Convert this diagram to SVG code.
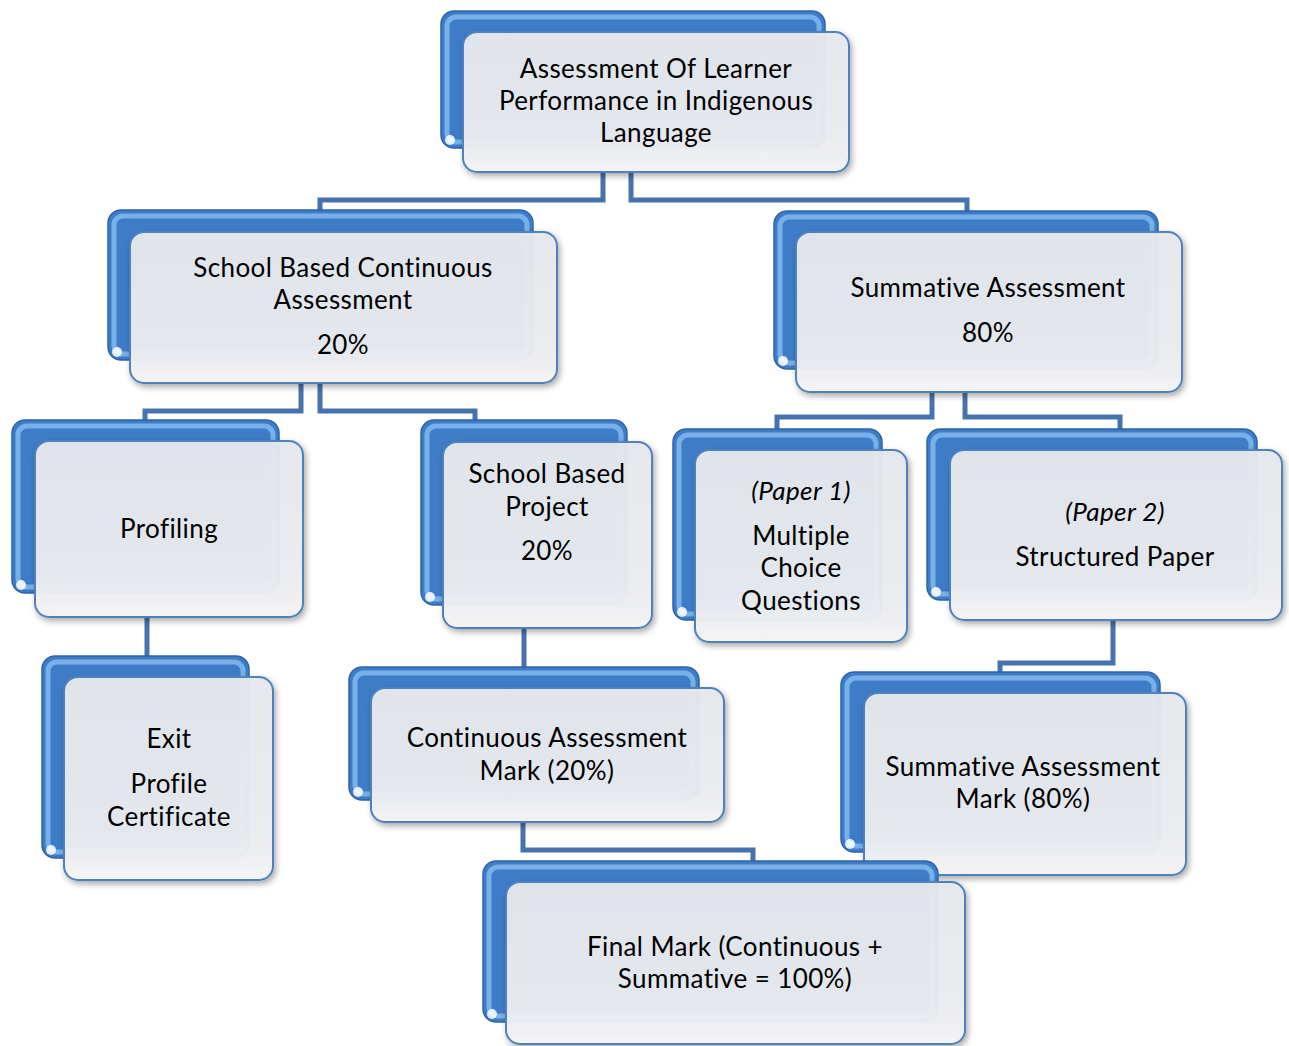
<svg xmlns="http://www.w3.org/2000/svg" width="1289" height="1046" viewBox="0 0 1289 1046">
<defs>
<linearGradient id="frontG" x1="0" y1="0" x2="0" y2="1">
<stop offset="0" stop-color="#e6e8ed"/>
<stop offset="0.75" stop-color="#eaecf0"/>
<stop offset="1" stop-color="#f4f4f5"/>
</linearGradient>
<filter id="sh" x="-10%" y="-10%" width="125%" height="130%">
<feDropShadow dx="2" dy="3" stdDeviation="3" flood-color="#000" flood-opacity="0.35"/>
</filter>
</defs>
<style>
.back{fill:#3f7cc7;stroke:#2f64a8;stroke-width:1.5}
.gloss{fill:none;stroke:#8cc2f4;stroke-width:5;opacity:0.75}
.dot{fill:#ffffff;opacity:0.85}
.front{fill:url(#frontG);fill-opacity:0.96;stroke:#4f81bd;stroke-width:2;filter:url(#sh)}
.t{font-family:Lato,"Open Sans","Liberation Sans",sans-serif;font-size:26px;letter-spacing:0.4px;fill:#000;text-anchor:middle}
.i{font-style:italic}
.c{fill:none;stroke:#4673ad;stroke-width:5;stroke-linejoin:miter}
</style>
<g id="connectors">
<path class="c" d="M603,172 V200 H320 V212"/>
<path class="c" d="M631,172 V200 H967 V212"/>
<path class="c" d="M301,383 V411 H145 V421"/>
<path class="c" d="M320,383 V411 H475 V421"/>
<path class="c" d="M932,392 V417 H777 V430"/>
<path class="c" d="M965,392 V417 H1120 V430"/>
<path class="c" d="M147,617 V657"/>
<path class="c" d="M524,628 V668"/>
<path class="c" d="M1113,620 V663 H1000 V673"/>
<path class="c" d="M523,822 V850 H753 V862"/>
</g>
<g id="n1">
<rect class="back" x="441" y="11" width="384" height="137" rx="13"/>
<rect class="gloss" x="447" y="17" width="372" height="125" rx="9"/>
<circle class="dot" cx="450" cy="140" r="5"/>
<rect class="front" x="463" y="32" width="386" height="140" rx="14"/>
<text class="t" x="656" y="78">Assessment Of Learner</text>
<text class="t" x="656" y="110">Performance in Indigenous</text>
<text class="t" x="656" y="142">Language</text>
</g>
<g id="n2">
<rect class="back" x="108" y="210" width="425" height="150" rx="13"/>
<rect class="gloss" x="114" y="216" width="413" height="138" rx="9"/>
<circle class="dot" cx="117" cy="352" r="5"/>
<rect class="front" x="130" y="232" width="427" height="151" rx="14"/>
<text class="t" x="343" y="277">School Based Continuous</text>
<text class="t" x="343" y="309">Assessment</text>
<text class="t" x="343" y="354">20%</text>
</g>
<g id="n3">
<rect class="back" x="774" y="211" width="384" height="158" rx="13"/>
<rect class="gloss" x="780" y="217" width="372" height="146" rx="9"/>
<circle class="dot" cx="783" cy="361" r="5"/>
<rect class="front" x="796" y="232" width="386" height="160" rx="14"/>
<text class="t" x="988" y="297">Summative Assessment</text>
<text class="t" x="988" y="342">80%</text>
</g>
<g id="n4">
<rect class="back" x="12" y="420" width="267" height="173" rx="13"/>
<rect class="gloss" x="18" y="426" width="255" height="161" rx="9"/>
<circle class="dot" cx="21" cy="585" r="5"/>
<rect class="front" x="35" y="441" width="268" height="176" rx="14"/>
<text class="t" x="169" y="538">Profiling</text>
</g>
<g id="n5">
<rect class="back" x="421" y="420" width="206" height="185" rx="13"/>
<rect class="gloss" x="427" y="426" width="194" height="173" rx="9"/>
<circle class="dot" cx="430" cy="597" r="5"/>
<rect class="front" x="443" y="442" width="209" height="186" rx="14"/>
<text class="t" x="547" y="483">School Based</text>
<text class="t" x="547" y="516">Project</text>
<text class="t" x="547" y="560">20%</text>
</g>
<g id="n6">
<rect class="back" x="673" y="429" width="209" height="191" rx="13"/>
<rect class="gloss" x="679" y="435" width="197" height="179" rx="9"/>
<circle class="dot" cx="682" cy="612" r="5"/>
<rect class="front" x="695" y="450" width="212" height="192" rx="14"/>
<text class="t i" x="801" y="500">(Paper 1)</text>
<text class="t" x="801" y="545">Multiple</text>
<text class="t" x="801" y="577">Choice</text>
<text class="t" x="801" y="610">Questions</text>
</g>
<g id="n7">
<rect class="back" x="927" y="429" width="330" height="171" rx="13"/>
<rect class="gloss" x="933" y="435" width="318" height="159" rx="9"/>
<circle class="dot" cx="936" cy="592" r="5"/>
<rect class="front" x="950" y="450" width="332" height="170" rx="14"/>
<text class="t i" x="1115" y="521">(Paper 2)</text>
<text class="t" x="1115" y="566">Structured Paper</text>
</g>
<g id="n8">
<rect class="back" x="42" y="656" width="207" height="202" rx="13"/>
<rect class="gloss" x="48" y="662" width="195" height="190" rx="9"/>
<circle class="dot" cx="51" cy="850" r="5"/>
<rect class="front" x="64" y="677" width="209" height="203" rx="14"/>
<text class="t" x="169" y="748">Exit</text>
<text class="t" x="169" y="793">Profile</text>
<text class="t" x="169" y="826">Certificate</text>
</g>
<g id="n9">
<rect class="back" x="349" y="667" width="350" height="133" rx="13"/>
<rect class="gloss" x="355" y="673" width="338" height="121" rx="9"/>
<circle class="dot" cx="358" cy="792" r="5"/>
<rect class="front" x="371" y="688" width="353" height="134" rx="14"/>
<text class="t" x="547" y="747">Continuous Assessment</text>
<text class="t" x="547" y="780">Mark (20%)</text>
</g>
<g id="n10">
<rect class="back" x="841" y="672" width="319" height="180" rx="13"/>
<rect class="gloss" x="847" y="678" width="307" height="168" rx="9"/>
<circle class="dot" cx="850" cy="844" r="5"/>
<rect class="front" x="864" y="693" width="322" height="182" rx="14"/>
<text class="t" x="1023" y="776">Summative Assessment</text>
<text class="t" x="1023" y="808">Mark (80%)</text>
</g>
<g id="n11">
<rect class="back" x="483" y="861" width="455" height="161" rx="13"/>
<rect class="gloss" x="489" y="867" width="443" height="149" rx="9"/>
<circle class="dot" cx="492" cy="1014" r="5"/>
<rect class="front" x="506" y="882" width="459" height="162" rx="14"/>
<text class="t" x="735" y="956">Final Mark (Continuous +</text>
<text class="t" x="735" y="988">Summative = 100%)</text>
</g>
</svg>
